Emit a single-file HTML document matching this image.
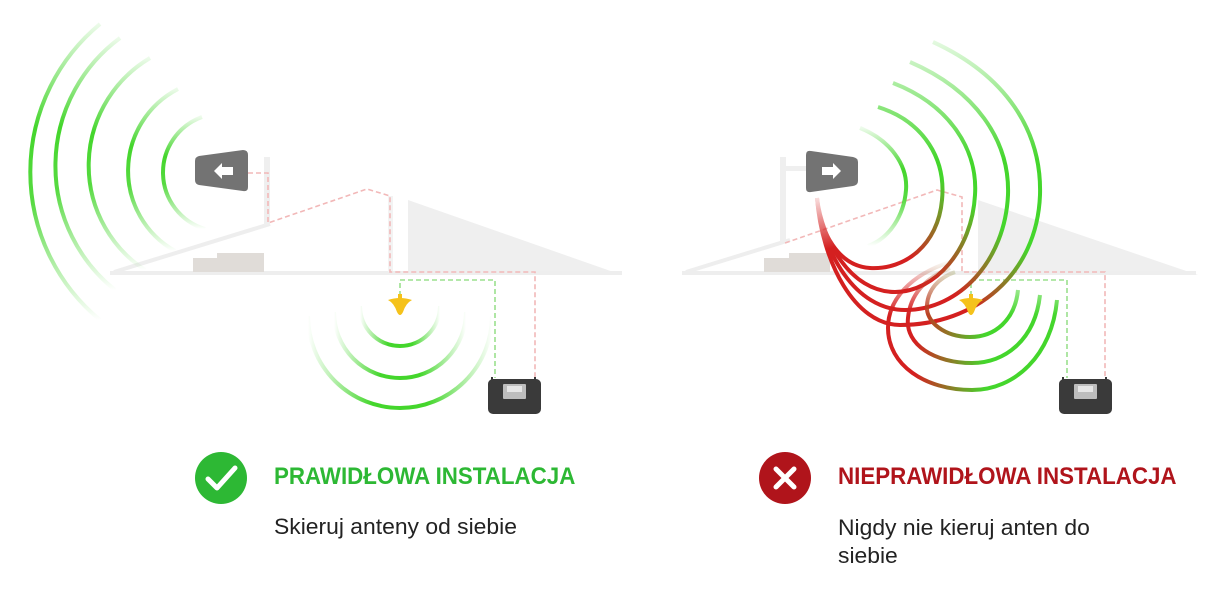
<!DOCTYPE html>
<html><head><meta charset="utf-8"><style>
html,body{margin:0;padding:0;background:#fff;width:1222px;height:591px;overflow:hidden}
svg{position:absolute;left:0;top:0}
.t{position:absolute;font-family:"Liberation Sans Narrow","Liberation Sans",sans-serif;font-weight:bold;font-size:24px;white-space:nowrap;transform-origin:0 50%;transform:scaleX(0.93)}
.s{position:absolute;font-family:"Liberation Sans",sans-serif;font-size:22px;color:#222;line-height:28px;transform-origin:0 0;transform:scaleX(1.04)}
</style></head><body>
<svg width="1222" height="591" viewBox="0 0 1222 591">
<defs>
<linearGradient id="fv" x1="0" y1="0" x2="0" y2="1">
<stop offset="0" stop-color="#44d62c" stop-opacity="0.1"/><stop offset="0.35" stop-color="#44d62c" stop-opacity="1"/><stop offset="0.6" stop-color="#44d62c" stop-opacity="0.9"/><stop offset="1" stop-color="#44d62c" stop-opacity="0"/></linearGradient>
<linearGradient id="fh" x1="0" y1="0" x2="1" y2="0">
<stop offset="0" stop-color="#44d62c" stop-opacity="0"/><stop offset="0.35" stop-color="#44d62c" stop-opacity="1"/><stop offset="0.65" stop-color="#44d62c" stop-opacity="1"/><stop offset="1" stop-color="#44d62c" stop-opacity="0"/></linearGradient>
<linearGradient id="top" gradientUnits="userSpaceOnUse" x1="860" y1="262" x2="935" y2="172">
<stop offset="0" stop-color="#d42020"/><stop offset="0.3" stop-color="#d42020"/><stop offset="1" stop-color="#44d62c"/></linearGradient>
<linearGradient id="bot" gradientUnits="userSpaceOnUse" x1="915" y1="0" x2="985" y2="0">
<stop offset="0" stop-color="#d42020"/><stop offset="1" stop-color="#44d62c"/></linearGradient>
<linearGradient id="mv1" gradientUnits="userSpaceOnUse" x1="0" y1="35" x2="0" y2="160">
<stop offset="0" stop-color="#fff" stop-opacity="0.1"/><stop offset="1" stop-color="#fff" stop-opacity="1"/></linearGradient>
<radialGradient id="mr" gradientUnits="userSpaceOnUse" cx="817" cy="195" r="55">
<stop offset="0" stop-color="#000" stop-opacity="0.9"/><stop offset="1" stop-color="#000" stop-opacity="0"/></radialGradient>
<linearGradient id="mv2" gradientUnits="userSpaceOnUse" x1="0" y1="262" x2="0" y2="315">
<stop offset="0" stop-color="#fff" stop-opacity="0.05"/><stop offset="1" stop-color="#fff" stop-opacity="1"/></linearGradient>
<mask id="m1" maskUnits="userSpaceOnUse" x="0" y="0" width="1222" height="591">
<rect x="0" y="0" width="1222" height="591" fill="url(#mv1)"/>
<rect x="760" y="140" width="120" height="120" fill="url(#mr)"/>
</mask>
<mask id="m2" maskUnits="userSpaceOnUse" x="0" y="0" width="1222" height="591">
<rect x="0" y="0" width="1222" height="591" fill="url(#mv2)"/>
</mask>
</defs>
<!-- LEFT PANEL house -->
<polygon points="408,200 408,275 622,275" fill="#efefef"/>
<line x1="110" y1="273" x2="622" y2="273" stroke="#eeeeee" stroke-width="4"/>
<line x1="114" y1="272" x2="270" y2="224" stroke="#eeeeee" stroke-width="4"/>
<rect x="264" y="157" width="6" height="68" fill="#efefef"/>
<rect x="388" y="196" width="5" height="76" fill="#f3f3f3"/>
<polygon points="193,258 217,258 217,253 264,253 264,272 193,272" fill="#e0dcd8"/>
<path d="M248,173 H268 V223 L367,189 L390,196 V272 H535 V378" fill="none" stroke="#f2b8b8" stroke-width="1.6" stroke-dasharray="5,3"/>
<path d="M400,296 V280 H495 V378" fill="none" stroke="#9be08d" stroke-width="1.6" stroke-dasharray="5,3"/>
<path d="M199,156 L243,150 Q248,150 248,155 L248,187 Q248,192 243,191 L199,185 Q195,184 195,180 L195,161 Q195,157 199,156Z" fill="#737373"/>
<polygon points="214,171 222,163 222,167 233,167 233,175 222,175 222,179" fill="#fff"/>
<g fill="none" stroke="url(#fv)" stroke-width="4">
<path d="M202,117 A59,59 0 0 0 205,229"/>
<path d="M178,89 A92,92 0 0 0 175,251"/>
<path d="M150,58 A125,125 0 0 0 145,270"/>
<path d="M120,38 A159,159 0 0 0 115,290"/>
<path d="M100,24 A192,192 0 0 0 100,320"/>
</g>
<g fill="none" stroke="url(#fh)" stroke-width="4">
<path d="M360,306 A40,40 0 0 0 440,306"/>
<path d="M334,312 A66,66 0 0 0 466,312"/>
<path d="M308,316 A92,92 0 0 0 492,316"/>
</g>
<path d="M388,300 Q400,296 412,300 Q406,303 403,312 Q400,318 397,312 Q394,303 388,300Z" fill="#f5c21b"/>
<rect x="398" y="294" width="4" height="6" fill="#f5c21b"/>
<rect x="488" y="379" width="53" height="35" rx="5" fill="#3a3a3a"/>
<rect x="491" y="377" width="2" height="3" fill="#3a3a3a"/><rect x="534" y="377" width="2" height="3" fill="#3a3a3a"/>
<rect x="503" y="384" width="23" height="15" rx="1" fill="#bdbdbd"/>
<rect x="507" y="386" width="15" height="6" fill="#e6e6e6"/>

<!-- RIGHT PANEL house -->
<polygon points="978,200 978,275 1198,275" fill="#efefef"/>
<line x1="682" y1="273" x2="1196" y2="273" stroke="#eeeeee" stroke-width="4"/>
<line x1="686" y1="272" x2="790" y2="240" stroke="#eeeeee" stroke-width="4"/>
<rect x="780" y="157" width="6" height="85" fill="#efefef"/>
<rect x="786" y="166" width="20" height="5" fill="#efefef"/>
<polygon points="764,258 789,258 789,253 830,253 830,272 764,272" fill="#e0dcd8"/>
<path d="M785,243 L937,190 L962,197 V272 H1105 V378" fill="none" stroke="#f2b8b8" stroke-width="1.6" stroke-dasharray="5,3"/>
<path d="M971,296 V280 H1067 V378" fill="none" stroke="#9be08d" stroke-width="1.6" stroke-dasharray="5,3"/>
<path d="M811,151 L853,157 Q858,158 858,162 L858,181 Q858,185 853,186 L811,192 Q806,193 806,188 L806,155 Q806,150 811,151Z" fill="#737373"/>
<polygon points="841,171 833,163 833,167 822,167 822,175 833,175 833,179" fill="#fff"/>
<g fill="none" stroke-width="4">
<path d="M860,128 C890,140 908,165 906,190 C904,215 890,238 868,246" stroke="url(#fv)"/>
<g stroke="url(#top)" mask="url(#m1)">
<path d="M878,107 C925,122 946,160 942,200 C938,245 905,270 870,268 C838,266 820,232 817,198"/>
<path d="M893,83 C950,105 978,150 975,195 C972,250 935,292 895,292 C850,292 822,240 817,198"/>
<path d="M910,62 C975,90 1010,140 1008,195 C1005,260 960,310 905,310 C855,310 822,252 817,198"/>
<path d="M933,42 C1005,75 1042,130 1040,195 C1037,275 975,325 900,325 C855,325 822,262 817,198"/>
</g>
<g stroke="url(#bot)" mask="url(#m2)">
<path d="M1018,290 C1015,320 995,337 970,337 C945,337 925,322 927,305 C928,290 938,278 955,272"/>
<path d="M1040,295 C1035,340 1005,363 972,363 C935,363 905,345 908,318 C910,295 925,278 950,268"/>
<path d="M1057,300 C1052,355 1015,390 972,390 C925,390 888,365 888,328 C888,300 910,275 950,262"/>
</g>
</g>
<path d="M959,300 Q971,296 983,300 Q977,303 974,312 Q971,318 968,312 Q965,303 959,300Z" fill="#f5c21b"/>
<rect x="969" y="294" width="4" height="6" fill="#f5c21b"/>
<rect x="1059" y="379" width="53" height="35" rx="5" fill="#3a3a3a"/>
<rect x="1062" y="377" width="2" height="3" fill="#3a3a3a"/><rect x="1105" y="377" width="2" height="3" fill="#3a3a3a"/>
<rect x="1074" y="384" width="23" height="15" rx="1" fill="#bdbdbd"/>
<rect x="1078" y="386" width="15" height="6" fill="#e6e6e6"/>

<circle cx="221" cy="478" r="26" fill="#2db834"/>
<path d="M208,479 L217,488 L235,468" fill="none" stroke="#fff" stroke-width="5" stroke-linecap="round" stroke-linejoin="round"/>
<circle cx="785" cy="478" r="26" fill="#b0141b"/>
<path d="M776,469 L794,487 M794,469 L776,487" stroke="#fff" stroke-width="5" stroke-linecap="round"/>
</svg>
<div class="t" style="left:274px;top:463px;color:#2db834">PRAWIDŁOWA INSTALACJA</div>
<div class="t" style="left:838px;top:463px;color:#b0141b">NIEPRAWIDŁOWA INSTALACJA</div>
<div class="s" style="left:274px;top:513px">Skieruj anteny od siebie</div>
<div class="s" style="left:838px;top:514px">Nigdy nie kieruj anten do<br>siebie</div>
</body></html>
